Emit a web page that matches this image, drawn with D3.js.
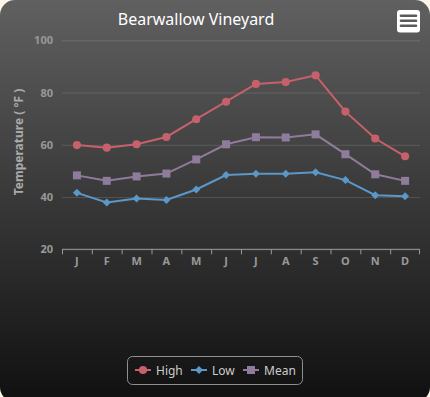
<!DOCTYPE html>
<html>
<head>
<meta charset="utf-8">
<script src="https://cdn.jsdelivr.net/npm/d3@7"></script>
<style>
  html, body { margin: 0; padding: 0; background: #fdf7ea; }
  svg { display: block; }
</style>
</head>
<body>
<div id="chart"></div>
<script>
// Monthly temperatures (°F).
const MONTHS = ["J", "F", "M", "A", "M", "J", "J", "A", "S", "O", "N", "D"];
const HIGH = [59.9, 58.9, 60.2, 63.0, 69.8, 76.5, 83.3, 84.0, 86.6, 72.7, 62.4, 55.6];
const LOW = [41.6, 37.9, 39.4, 38.9, 42.9, 48.4, 48.9, 48.9, 49.5, 46.5, 40.7, 40.3];
const MEAN = [48.3, 46.2, 47.9, 49.0, 54.4, 60.2, 62.9, 62.8, 64.0, 56.4, 48.7, 46.2];
const Y_TICKS = [20, 40, 60, 80, 100];

// square rotated 45deg, like the Highcharts diamond marker
const symbolRhomb = {
  draw(ctx, size) {
    const r = Math.sqrt(size / 2);
    ctx.moveTo(0, -r);
    ctx.lineTo(r, 0);
    ctx.lineTo(0, r);
    ctx.lineTo(-r, 0);
    ctx.closePath();
  }
};

const SERIES = [
  { name: "High", values: HIGH, color: "#c6616b", symbol: d3.symbolCircle, size: 52 },
  { name: "Low", values: LOW, color: "#5b97c9", symbol: symbolRhomb, size: 32 },
  { name: "Mean", values: MEAN, color: "#8f7b9b", symbol: d3.symbolSquare, size: 64 }
];

const W = 430, H = 397;
const plot = { left: 62, right: 420, top: 40.3, bottom: 249.3 };
const FONT = "'Noto Sans', 'DejaVu Sans', sans-serif";

const svg = d3.select("#chart").append("svg")
  .attr("width", W)
  .attr("height", H)
  .style("font-family", FONT);

// dark gradient background, Highcharts gray theme style
const grad = svg.append("defs").append("linearGradient")
  .attr("id", "bg")
  .attr("x1", 0).attr("y1", 0).attr("x2", 0).attr("y2", 1);
grad.append("stop").attr("offset", 0).attr("stop-color", "rgb(96,96,96)");
grad.append("stop").attr("offset", 1).attr("stop-color", "rgb(16,16,16)");

svg.append("rect")
  .attr("x", 0).attr("y", 0)
  .attr("width", W).attr("height", 402)
  .attr("rx", 15)
  .attr("fill", "url(#bg)");

const x = d3.scaleBand().domain(d3.range(MONTHS.length)).range([plot.left, plot.right]);
const y = d3.scaleLinear().domain([20, 100]).range([plot.bottom, plot.top]);
const cx = i => x(i) + x.bandwidth() / 2;

// y axis: gridlines + labels
const yAxis = svg.append("g")
  .attr("transform", `translate(${plot.left},0)`)
  .call(d3.axisLeft(y).tickValues(Y_TICKS).tickSize(-(plot.right - plot.left)).tickPadding(9));
yAxis.select(".domain").remove();
yAxis.selectAll("line").attr("stroke", "rgba(255,255,255,0.13)");
yAxis.selectAll("text")
  .attr("fill", "#999")
  .attr("font-size", 11)
  .attr("font-weight", "bold")
  .attr("font-family", FONT);

svg.append("text")
  .attr("transform", "translate(22.5,142) rotate(-90)")
  .attr("text-anchor", "middle")
  .attr("fill", "#aaa")
  .attr("font-size", 12)
  .attr("font-weight", "bold")
  .text("Temperature ( °F )");

// x axis: line, ticks on band edges, month labels
const xAxis = svg.append("g").attr("transform", `translate(0,${plot.bottom})`);
xAxis.append("line")
  .attr("x1", plot.left).attr("x2", plot.right)
  .attr("stroke", "#999");
xAxis.selectAll(".tick")
  .data(d3.range(MONTHS.length + 1))
  .join("line")
  .attr("x1", i => i < MONTHS.length ? x(i) + 0.5 : plot.right - 0.5)
  .attr("x2", i => i < MONTHS.length ? x(i) + 0.5 : plot.right - 0.5)
  .attr("y1", 0).attr("y2", 5)
  .attr("stroke", "#999");
xAxis.selectAll(".lbl")
  .data(MONTHS)
  .join("text")
  .attr("x", (d, i) => cx(i))
  .attr("y", 16)
  .attr("text-anchor", "middle")
  .attr("fill", "#999")
  .attr("font-size", 11)
  .attr("font-weight", "bold")
  .text(d => d);

// series lines and markers
const line = d3.line().x((d, i) => cx(i)).y(d => y(d));
const seriesG = svg.append("g")
  .selectAll("g")
  .data(SERIES)
  .join("g");

seriesG.append("path")
  .attr("d", s => line(s.values))
  .attr("fill", "none")
  .attr("stroke", s => s.color)
  .attr("stroke-width", 2);

seriesG.each(function(s) {
  d3.select(this).selectAll("path.m")
    .data(s.values)
    .join("path")
    .attr("class", "m")
    .attr("transform", (d, i) => `translate(${cx(i)},${y(d)})`)
    .attr("d", d3.symbol().type(s.symbol).size(s.size))
    .attr("fill", s.color);
});

// title
svg.append("text")
  .attr("x", 196)
  .attr("y", 25)
  .attr("text-anchor", "middle")
  .attr("fill", "#fff")
  .attr("font-size", 16)
  .text("Bearwallow Vineyard");

// export menu button
const btn = svg.append("g").attr("transform", "translate(397,10)");
btn.append("rect")
  .attr("width", 23).attr("height", 22.5)
  .attr("rx", 3)
  .attr("fill", "#fff");
btn.selectAll("line")
  .data([5.7, 10.7, 15.7])
  .join("line")
  .attr("x1", 4).attr("x2", 19)
  .attr("y1", d => d).attr("y2", d => d)
  .attr("stroke", "#5a5a5a")
  .attr("stroke-width", 2.6)
  .attr("stroke-linecap", "round");

// legend
const legend = svg.append("g").attr("transform", "translate(127.5,356.5)");
legend.append("rect")
  .attr("width", 175).attr("height", 28)
  .attr("rx", 5)
  .attr("fill", "none")
  .attr("stroke", "#909090");

const itemX = [7.5, 63.5, 115.5];
const item = legend.selectAll("g.item")
  .data(SERIES)
  .join("g")
  .attr("class", "item")
  .attr("transform", (d, i) => `translate(${itemX[i]},13.5)`);
item.append("line")
  .attr("x1", 0).attr("x2", 16)
  .attr("stroke", d => d.color)
  .attr("stroke-width", 2);
item.append("path")
  .attr("transform", "translate(8,0)")
  .attr("d", d => d3.symbol().type(d.symbol).size(d.size)())
  .attr("fill", d => d.color);
item.append("text")
  .attr("x", 21)
  .attr("y", 4.5)
  .attr("fill", "#ccc")
  .attr("font-size", 12)
  .text(d => d.name);
</script>
</body>
</html>
